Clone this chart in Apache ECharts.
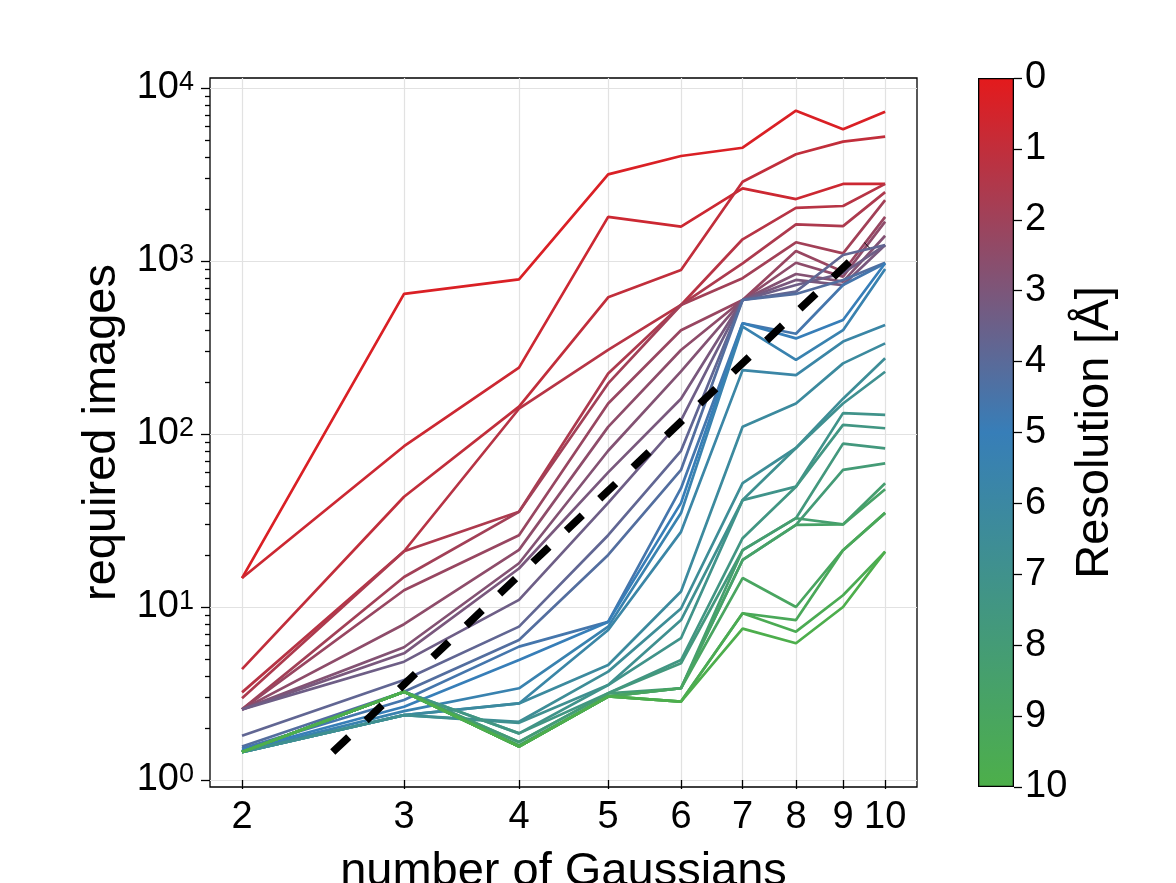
<!DOCTYPE html>
<html>
<head>
<meta charset="UTF-8">
<title>required images</title>
<style>
  html, body { margin: 0; padding: 0; background: #fff; }
  #chart { width: 1176px; height: 883px; }
</style>
</head>
<body>
<div id="chart"></div>

<script src="https://cdn.jsdelivr.net/npm/echarts@6/dist/echarts.min.js"></script>
<script type="text/javascript">
// ---- data ----
var gaussians = [2, 3, 4, 5, 6, 7, 8, 9, 10];

// resolution [A] of each curve (sets the colour)
var resolution = [0.3, 0.7, 1.0, 1.3, 1.6, 1.9, 2.2, 2.5, 2.8, 3.1,
                  3.4, 3.8, 4.2, 4.6, 5.0, 5.4, 5.8, 6.2, 6.5, 6.8,
                  7.1, 7.4, 7.7, 8.0, 8.3, 8.7, 9.0, 9.3, 9.6, 9.9];

// required images, one row per resolution, one value per number of gaussians
var requiredImages = [
	[14.7, 645, 784, 3170, 4045, 4517, 7390, 5770, 7300],
	[14.7, 85, 242, 1800, 1580, 2630, 2280, 2790, 2790],
	[4.37, 43.4, 144, 617, 887, 2870, 4140, 4900, 5230],
	[3.21, 21, 140, 306, 557, 1335, 2030, 2080, 2790],
	[2.97, 21, 35.5, 224, 557, 970, 1630, 1590, 2500],
	[2.56, 14.9, 35.5, 196, 557, 795, 1283, 1107, 2250],
	[2.56, 12.5, 26, 150, 398, 595, 1142, 867, 1800],
	[2.56, 7.95, 21.4, 110, 306, 595, 977, 812, 1690],
	[2.56, 5.85, 17.9, 80, 230, 595, 841, 760, 1400],
	[2.56, 5.4, 16.7, 60, 160, 595, 777, 726, 1237],
	[2.56, 4.83, 11, 40, 120, 595, 726, 850, 1237],
	[1.80, 3.78, 7.7, 26, 80, 595, 665, 1083, 1237],
	[1.56, 3.24, 6.44, 20, 62, 595, 645, 777, 977],
	[1.52, 2.9, 5.9, 8.2, 48.6, 437, 380, 726, 970],
	[1.49, 2.65, 4.94, 8.2, 40, 437, 357, 456, 970],
	[1.47, 2.5, 3.39, 7.7, 34.9, 417, 268, 398, 900],
	[1.45, 2.37, 2.77, 7.36, 27.2, 234, 219, 342, 427],
	[1.45, 2.37, 2.77, 4.62, 12.3, 110, 150, 256, 334],
	[1.45, 2.37, 2.17, 4.23, 9.8, 52, 83, 160, 274],
	[1.45, 2.37, 2.14, 3.54, 8.4, 41.5, 83, 150, 229],
	[1.45, 3.24, 1.86, 3.54, 6.6, 41.5, 49.6, 132, 129],
	[1.45, 3.24, 1.86, 3.17, 4.94, 25, 49.6, 113, 108],
	[1.45, 3.24, 1.66, 3.17, 4.73, 21.3, 32.6, 88, 82.6],
	[1.45, 3.24, 1.66, 3.17, 3.39, 18.7, 29.8, 62, 67.7],
	[1.45, 3.24, 1.59, 3.04, 3.39, 21.3, 32.6, 30, 51.9],
	[1.45, 3.24, 1.56, 3.04, 3.39, 18.7, 29.8, 30, 47.9],
	[1.45, 3.24, 1.56, 3.04, 3.39, 14.7, 10, 21.3, 35],
	[1.45, 3.24, 1.56, 3.04, 2.84, 9.2, 8.4, 21.3, 35],
	[1.45, 3.24, 1.56, 3.04, 2.84, 9.2, 7.2, 11.7, 20.9],
	[1.45, 3.24, 1.56, 3.04, 2.84, 7.5, 6.17, 10, 20.9]
];

// black dashed guide line, two end points
var fitX = [2.51, 9.56];
var fitY = [1.45, 1237];

// axes
var xTicks = [2, 3, 4, 5, 6, 7, 8, 9, 10];
var yTicks = [1, 10, 100, 1000, 10000];
var xRange = [1.846, 10.83];
var yRange = [0.911, 11425];
var colorTicks = [0, 10];

var FONT = 'Liberation Sans, Arial, Helvetica, sans-serif';
var RED = [228, 26, 28], BLUE = [55, 126, 184], GREEN = [77, 175, 74];

function lg(v) { return Math.log10(v); }

function mix(a, b, t)
{
	return 'rgb(' + Math.round(a[0] + (b[0] - a[0]) * t) + ',' +
		Math.round(a[1] + (b[1] - a[1]) * t) + ',' +
		Math.round(a[2] + (b[2] - a[2]) * t) + ')';
}

// red -> blue -> green over 0..10 A
function resColor(r)
{
	var t = Math.max(0, Math.min(1, r / 10));
	return t < 0.5 ? mix(RED, BLUE, t / 0.5) : mix(BLUE, GREEN, (t - 0.5) / 0.5);
}

// minor log ticks 2..9 in every decade
var yMinor = [];
for (var d = 0; d < 5; d++)
{
	for (var k = 2; k <= 9; k++)
	{
		var v = k * Math.pow(10, d);
		if (v < yRange[1]) yMinor.push(lg(v));
	}
}

var series = [];
requiredImages.forEach(function(row, i)
{
	series.push({
		type: 'line',
		xAxisIndex: 0,
		yAxisIndex: 0,
		symbol: 'none',
		silent: true,
		z: 2,
		lineStyle: { color: resColor(resolution[i]), width: 2.7 },
		data: gaussians.map(function(g, j) { return [lg(g), lg(row[j])]; })
	});
});

series.push({
	type: 'line',
	xAxisIndex: 0,
	yAxisIndex: 0,
	symbol: 'none',
	silent: true,
	z: 5,
	lineStyle: { color: '#000', width: 7.5, type: [22, 24], cap: 'butt' },
	data: fitX.map(function(x, j) { return [lg(x), lg(fitY[j])]; })
});

// colour bar
series.push({
	type: 'bar',
	xAxisIndex: 1,
	yAxisIndex: 2,
	silent: true,
	barWidth: '100%',
	data: [colorTicks[1]],
	itemStyle: {
		borderColor: '#000',
		borderWidth: 1.3,
		color: new echarts.graphic.LinearGradient(0, 0, 0, 1, [
			{ offset: 0, color: mix(RED, RED, 0) },
			{ offset: 0.5, color: mix(BLUE, BLUE, 0) },
			{ offset: 1, color: mix(GREEN, GREEN, 0) }
		])
	}
});

var tickStyle = { color: '#000', width: 1.3 };
var labelStyle = { color: '#000', fontFamily: FONT, fontSize: 38 };
var nameStyle = { color: '#000', fontFamily: FONT, fontSize: 47 };

var option = {
	animation: false,
	backgroundColor: '#fff',
	grid: [
		{ left: 210, right: 259, top: 78, bottom: 96, outerBoundsMode: 'none', containLabel: false,
		  show: true, borderColor: '#000', borderWidth: 1.3, backgroundColor: 'transparent' },
		{ left: 978, width: 36, top: 78, bottom: 96, outerBoundsMode: 'none', containLabel: false }
	],
	xAxis: [
		{
			type: 'value',
			gridIndex: 0,
			min: lg(xRange[0]),
			max: lg(xRange[1]),
			axisLine: { show: false },
			axisTick: { show: true, inside: false, length: 9, lineStyle: tickStyle, customValues: xTicks.map(lg) },
			axisLabel: Object.assign({
				customValues: xTicks.map(lg),
				margin: 12,
				formatter: function(v) { return String(Math.round(Math.pow(10, v))); }
			}, labelStyle),
			splitLine: { show: true, lineStyle: { color: '#e2e2e2', width: 1.2 } },
			name: 'number of Gaussians',
			nameLocation: 'middle',
			nameGap: 62,
			nameTextStyle: nameStyle
		},
		{
			type: 'category',
			gridIndex: 1,
			data: ['cb'],
			show: false
		}
	],
	yAxis: [
		{
			type: 'value',
			gridIndex: 0,
			position: 'left',
			min: lg(yRange[0]),
			max: lg(yRange[1]),
			axisLine: { show: false },
			axisTick: { show: true, inside: false, length: 9, lineStyle: tickStyle, customValues: yTicks.map(lg) },
			axisLabel: {
				customValues: yTicks.map(lg),
				margin: 16,
				formatter: function(v) { return '{b|10}{s|' + Math.round(v) + '}'; },
				rich: {
					b: { color: '#000', fontFamily: FONT, fontSize: 38 },
					s: { color: '#000', fontFamily: FONT, fontSize: 27, verticalAlign: 'top' }
				}
			},
			splitLine: { show: true, lineStyle: { color: '#e2e2e2', width: 1.2 } },
			name: 'required images',
			nameLocation: 'middle',
			nameRotate: 90,
			nameGap: 72,
			nameTextStyle: nameStyle
		},
		{
			type: 'value',
			gridIndex: 0,
			position: 'left',
			min: lg(yRange[0]),
			max: lg(yRange[1]),
			axisLine: { show: false },
			axisLabel: { show: false },
			splitLine: { show: false },
			axisTick: { show: true, inside: false, length: 5, lineStyle: tickStyle, customValues: yMinor }
		},
		{
			type: 'value',
			gridIndex: 1,
			position: 'right',
			min: colorTicks[0],
			max: colorTicks[1],
			interval: 1,
			inverse: true,
			axisLine: { show: false },
			axisTick: { show: true, inside: false, length: 8, lineStyle: tickStyle },
			axisLabel: Object.assign({ margin: 11 }, labelStyle),
			splitLine: { show: false },
			name: 'Resolution [Å]',
			nameLocation: 'middle',
			nameRotate: 90,
			nameGap: 56,
			nameTextStyle: nameStyle
		}
	],
	series: series
};

var chart = echarts.init(document.getElementById('chart'), null, { renderer: 'canvas' });
chart.setOption(option);
</script>
</body>
</html>
